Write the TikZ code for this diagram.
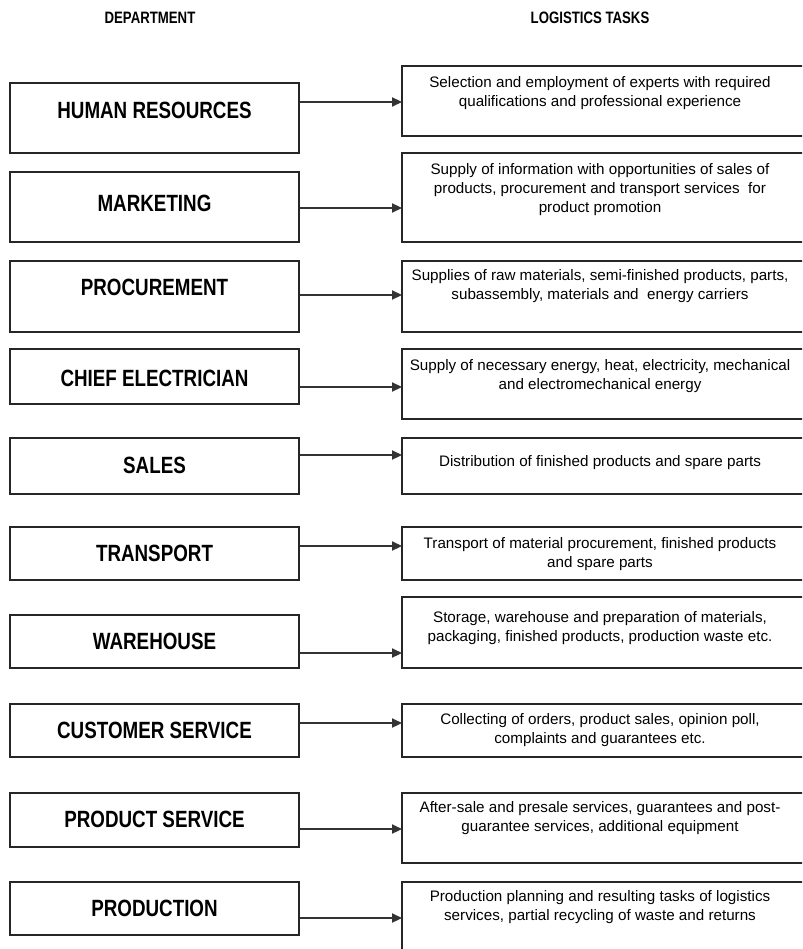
\documentclass[tikz,border=0pt]{standalone}
\usepackage{fontspec}
\setmainfont{Liberation Sans}
\newfontfamily\headfont{Liberation Sans}[FakeStretch=0.8]
\usetikzlibrary{arrows.meta}

\tikzset{
  deptbox/.style={draw=black!85, line width=1.6pt, minimum width=289pt, inner sep=0pt},
  taskbox/.style={draw=black!85, line width=1.6pt, minimum width=420pt, inner sep=0pt},
  deptlabel/.style={font=\headfont\bfseries\fontsize{23.5}{25}\selectfont, inner sep=0pt},
  tasklabel/.style={font=\fontsize{15.2}{19}\selectfont, align=center, inner sep=0pt},
  colhead/.style={font=\headfont\bfseries\fontsize{16.5}{18}\selectfont, inner sep=0pt},
  feed/.style={draw=black!80, line width=2.2pt, -{Triangle[length=10pt,width=9pt]}, shorten >=-0.8pt}
}

% #1 index, #2/#3 department box top/bottom, #4/#5 task box top/bottom, #6 arrow height
\newcommand\deptrow[6]{%
  \pgfmathsetmacro{\dh}{#3-#2}%
  \pgfmathsetmacro{\dc}{(#3+#2)/2}%
  \pgfmathsetmacro{\th}{#5-#4}%
  \pgfmathsetmacro{\tc}{(#5+#4)/2}%
  \node[deptbox, minimum height=\dh pt] (d#1) at (154.5,\dc) {};
  \node[taskbox, minimum height=\th pt] (t#1) at (612,\tc) {};
  \coordinate (a#1) at (0,#6);
  \draw[feed] (d#1.east |- a#1) -- (t#1.west |- a#1);
}

\begin{document}
\begin{tikzpicture}[x=1pt, y=-1pt]
  \useasboundingbox (0,0) rectangle (802,949);
  \clip (0,0) rectangle (802,949);

  % column headings
  \node[colhead] (hdept) at (150,18) {DEPARTMENT};
  \node[colhead] (htask) at (590,18) {LOGISTICS TASKS};

  \deptrow{1}{83}{153}{66}{136}{102}
  \deptrow{2}{172}{242}{153}{242}{208}
  \deptrow{3}{261}{332}{261}{332}{295}
  \deptrow{4}{349}{404}{349}{419}{387}
  \deptrow{5}{438}{494}{438}{494}{455}
  \deptrow{6}{527}{580}{527}{580}{546}
  \deptrow{7}{615}{668}{597}{668}{653}
  \deptrow{8}{704}{757}{704}{757}{723}
  \deptrow{9}{793}{847}{793}{863}{829}
  \deptrow{10}{882}{935}{882}{962}{918}

  % department names
  \node[deptlabel] (dl1)  at (154.5,110) {HUMAN RESOURCES};
  \node[deptlabel] (dl2)  at (154.5,203) {MARKETING};
  \node[deptlabel] (dl3)  at (154.5,287) {PROCUREMENT};
  \node[deptlabel] (dl4)  at (154.5,378) {CHIEF ELECTRICIAN};
  \node[deptlabel] (dl5)  at (154.5,465) {SALES};
  \node[deptlabel] (dl6)  at (154.5,553) {TRANSPORT};
  \node[deptlabel] (dl7)  at (154.5,641) {WAREHOUSE};
  \node[deptlabel] (dl8)  at (154.5,730) {CUSTOMER SERVICE};
  \node[deptlabel] (dl9)  at (154.5,819) {PRODUCT SERVICE};
  \node[deptlabel] (dl10) at (154.5,908) {PRODUCTION};

  % logistics tasks
  \node[tasklabel] (tl1)  at (600,93)  {Selection and employment of experts with required\\qualifications and professional experience};
  \node[tasklabel] (tl2)  at (600,190) {Supply of information with opportunities of sales of\\products, procurement and transport services \ for\\product promotion};
  \node[tasklabel] (tl3)  at (600,286) {Supplies of raw materials, semi-finished products, parts,\\subassembly, materials and \ energy carriers};
  \node[tasklabel] (tl4)  at (600,376) {Supply of necessary energy, heat, electricity, mechanical\\and electromechanical energy};
  \node[tasklabel] (tl5)  at (600,463) {Distribution of finished products and spare parts};
  \node[tasklabel] (tl6)  at (600,554) {Transport of material procurement, finished products\\and spare parts};
  \node[tasklabel] (tl7)  at (600,628) {Storage, warehouse and preparation of materials,\\packaging, finished products, production waste etc.};
  \node[tasklabel] (tl8)  at (600,730) {Collecting of orders, product sales, opinion poll,\\complaints and guarantees etc.};
  \node[tasklabel] (tl9)  at (600,818) {After-sale and presale services, guarantees and post-\\guarantee services, additional equipment};
  \node[tasklabel] (tl10) at (600,907) {Production planning and resulting tasks of logistics\\services, partial recycling of waste and returns};
\end{tikzpicture}
\end{document}
